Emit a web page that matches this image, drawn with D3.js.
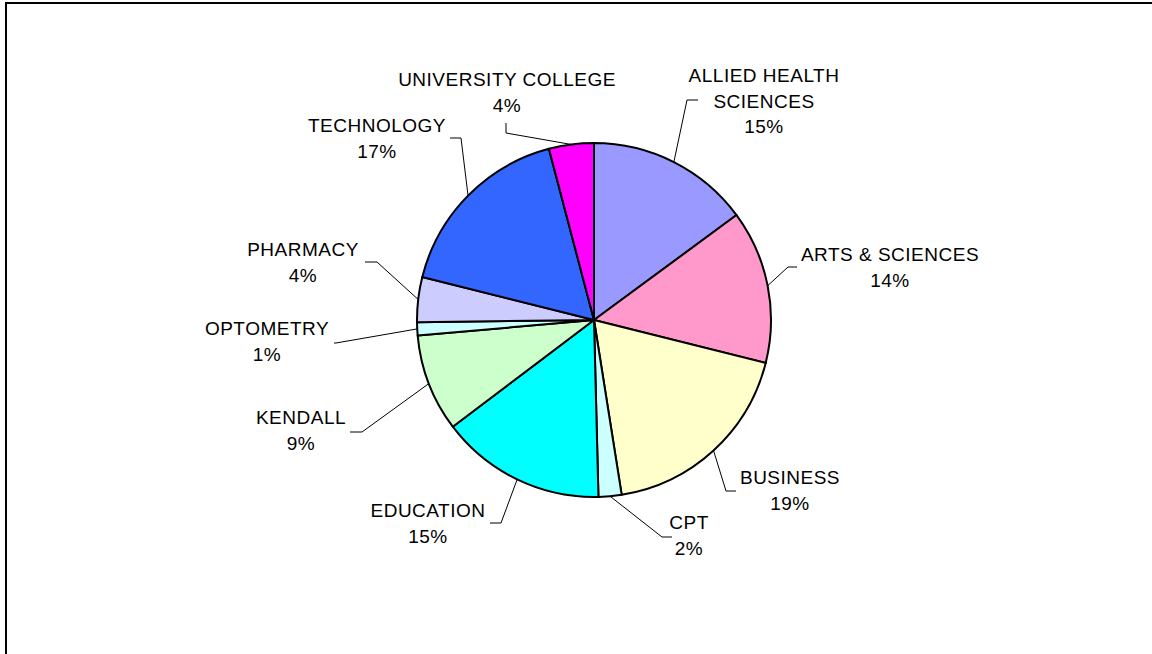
<!DOCTYPE html>
<html>
<head>
<meta charset="utf-8">
<script src="https://cdn.jsdelivr.net/npm/d3@7"></script>
<style>
  body { margin: 0; background: #fff; }
  svg { display: block; }
  text { font-family: "Liberation Sans", Arial, sans-serif; font-size: 19px; letter-spacing: 0.5px; fill: #000; }
</style>
</head>
<body>
<svg width="1152" height="654"></svg>
<script>
// colleges, clockwise from 12 o'clock
var colleges = ["ALLIED HEALTH SCIENCES", "ARTS & SCIENCES", "BUSINESS", "CPT", "EDUCATION",
                "KENDALL", "OPTOMETRY", "PHARMACY", "TECHNOLOGY", "UNIVERSITY COLLEGE"];
var shares = [14.9, 14.0, 18.6, 2.1, 15.1, 8.9, 1.2, 4.1, 17.0, 4.1];
var colors = ["#9999ff", "#ff99cc", "#ffffcc", "#ccffff", "#00ffff",
              "#ccffcc", "#ccffff", "#ccccff", "#3366ff", "#ff00ff"];

// label layout (text lines, centre x, first baseline, leader elbow)
var labelLines = [["ALLIED HEALTH", "SCIENCES"], ["ARTS & SCIENCES"], ["BUSINESS"], ["CPT"], ["EDUCATION"],
                  ["KENDALL"], ["OPTOMETRY"], ["PHARMACY"], ["TECHNOLOGY"], ["UNIVERSITY COLLEGE"]];
var labelAt = [[764, 82], [890, 261], [790, 484], [689, 529], [428, 517],
               [301, 424], [267, 335], [303, 256], [377, 132], [507, 86]];
var leaderFrom = [[698, 100], [797, 267], [736, 491], [672, 537], [490, 523],
                  [350, 432], [334, 343], [365, 262], [450, 138], [506, 123]];
var leaderElbow = [[687, 100], [788, 267], [726, 491], [662, 537], [501, 523],
                   [362, 432], [336, 343], [377, 262], [461, 138], [506, 133]];

var svg = d3.select("svg"),
    cx = 594, cy = 320, r = 177;

// chart frame
svg.append("rect")
    .attr("x", 6).attr("y", 3)
    .attr("width", 1170).attr("height", 700)
    .attr("fill", "none").attr("stroke", "#000").attr("stroke-width", 2);

var pie = d3.pie().sort(null).value(function(d) { return d; });
var arcs = pie(shares);
var arc = d3.arc().innerRadius(0).outerRadius(r);

var g = svg.append("g").attr("transform", "translate(" + cx + "," + cy + ")");

g.selectAll("path")
  .data(arcs)
  .enter()
  .append("path")
    .attr("d", arc)
    .attr("fill", function(d, i) { return colors[i]; })
    .attr("stroke", "#000")
    .attr("stroke-width", 2)
    .attr("stroke-linejoin", "round");

// leader lines: label -> elbow -> pie edge at the slice middle
svg.append("g").selectAll("polyline")
  .data(arcs)
  .enter()
  .append("polyline")
    .attr("fill", "none")
    .attr("stroke", "#000")
    .attr("stroke-width", 1)
    .attr("points", function(d, i) {
      var a = (d.startAngle + d.endAngle) / 2;
      var ex = cx + r * Math.sin(a), ey = cy - r * Math.cos(a);
      return [leaderFrom[i], leaderElbow[i], [ex, ey]].map(function(p) { return p.join(","); }).join(" ");
    });

var labels = svg.append("g").selectAll("text")
  .data(arcs)
  .enter()
  .append("text")
    .attr("text-anchor", "middle")
    .attr("x", function(d, i) { return labelAt[i][0]; })
    .attr("y", function(d, i) { return labelAt[i][1]; });

labels.each(function(d, i) {
  var t = d3.select(this);
  var lines = labelLines[i].concat([Math.round(d.value) + "%"]);
  lines.forEach(function(s, k) {
    t.append("tspan")
      .attr("x", labelAt[i][0])
      .attr("dy", k === 0 ? 0 : 25.5)
      .text(s);
  });
});
</script>
</body>
</html>
